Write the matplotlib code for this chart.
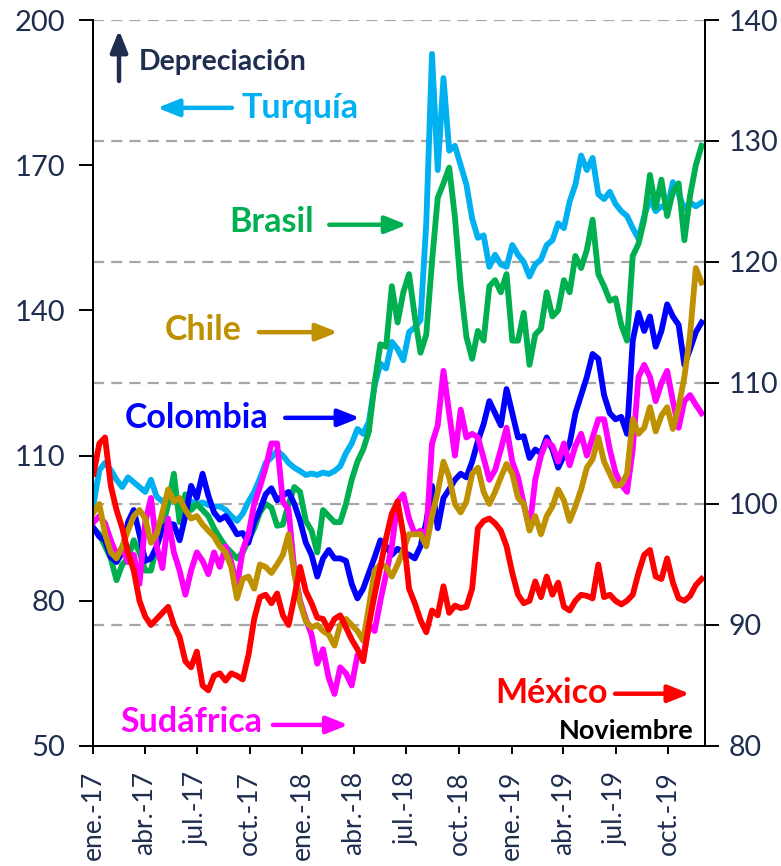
import numpy as np
import pandas as pd
import matplotlib
matplotlib.use("Agg")
import matplotlib.pyplot as plt
from matplotlib.patches import ArrowStyle

plt.rcParams["font.family"] = ["Lato", "DejaVu Sans"]

# ── Data: índices de tipo de cambio (10-day spacing, ene-2017 a nov-2019) ─────
dates = pd.date_range("2017-01-02", periods=107, freq="10D")

# eje izquierdo
turquia = [
    100, 107, 108.5, 107, 105, 103.5, 105.5, 104.5, 103.5, 102.5,
    105, 101.5, 100.5, 101.5, 100.5, 100.5, 100.8, 100.5, 100, 100.3,
    99.8, 99.5, 99.5, 98.8, 97.5, 96.5, 98, 100.5, 102.5, 105.3,
    108.5, 109.6, 111, 110, 108.5, 107.5, 106.8, 106, 106.3, 106,
    106.5, 106.2, 106.8, 107.8, 110.5, 112.5, 115.5, 114.5, 117, 124.5,
    129, 128, 133.5, 132, 129.7, 135.5, 136.5, 138, 158, 193,
    169, 188, 173, 174, 170, 166, 159, 155, 155.5, 149,
    151.5, 149.5, 149, 153.5, 151.5, 150, 147, 149.5, 150.5, 153.5,
    154.5, 158, 157, 162.5, 166, 172, 169, 171.5, 164, 163,
    164.5, 162, 160.5, 159.5, 157, 154.8, 159.5, 163, 160.5, 161.5,
    161, 166.5, 164, 161, 162.3, 161.5, 162.3,
]

# eje derecho
brasil = [
    98, 97.5, 96.5, 95.5, 93.7, 95, 95.5, 97, 96, 94.5,
    94.5, 96.5, 98, 100, 102.5, 98.5, 100.8, 99.5, 100, 99.5,
    99, 98, 97.2, 96.5, 96, 95.5, 96, 97, 98, 99.3,
    100, 99.7, 98.2, 98.3, 100, 101.4, 101, 98.6, 97.8, 96,
    99.5, 99, 98.5, 98.5, 100, 102, 103.5, 104.5, 106, 110,
    113.2, 113, 118, 115, 117.5, 119, 115.5, 112.5, 114, 120,
    125.3, 126.5, 127.8, 123.7, 118, 113.8, 112, 114.3, 113.5, 118,
    118.5, 117.5, 119, 113.5, 113.5, 115.8, 111.5, 114, 114.5, 117.5,
    115.5, 116, 118.5, 117.5, 120.5, 119.5, 121, 123.5, 119, 118,
    116.8, 117, 114.8, 113.5, 120.5, 121.5, 123.5, 127.2, 124.5, 126.8,
    123.8, 125.8, 126.5, 121.8, 125.5, 128, 129.6,
]

colombia = [
    98, 97.3, 97, 95.6, 95.2, 96, 98.5, 99.5, 97.5, 95.3,
    95.5, 96.5, 98, 98.4, 98.3, 97, 99, 101.5, 100.5, 102.5,
    100.7, 99.3, 98.7, 99, 98.3, 97.5, 97.6, 96.8, 98.5, 99.5,
    100.8, 101.3, 100.3, 100.7, 101, 100, 98.6, 96.8, 95.8, 94,
    95.5, 96.2, 95.5, 95.5, 95.3, 93.4, 92.2, 93, 94.3, 95.6,
    97, 96.5, 95.8, 96.3, 96, 95.8, 95.5, 96.5, 98.5, 101.5,
    98, 100.5, 101.2, 102, 102.5, 102.2, 103.5, 105.2, 106.6, 108.5,
    107.5, 106.5, 109.5, 107.5, 105.5, 105.6, 103.8, 104.5, 104.2, 105.5,
    104.5, 103, 104, 105, 107.5, 109, 110.5, 112.4, 112, 109,
    107.5, 107, 107.2, 105.8, 113.5, 115.8, 114.3, 115.5, 113, 114.3,
    116.5, 115.5, 114.8, 111.5, 112.8, 114.2, 115,
]

sudafrica = [
    98.5, 99, 98.4, 97, 95.8, 96.4, 95.2, 95.8, 93.4, 98.5,
    100.5, 96.5, 94.7, 98.8, 96, 94.5, 92.5, 94.5, 96, 95.3,
    94.2, 96, 94.8, 96.5, 95.2, 93.2, 96.2, 97.5, 100, 101.4,
    103, 105, 105, 100.2, 99.5, 94.5, 92, 90.5, 89.2, 86.8,
    88, 85.6, 84.3, 86.5, 86, 85, 87.5, 87.3, 90, 89.5,
    92, 94.2, 96.5, 100.2, 100.8, 98.8, 97.5, 97.8, 97.3, 105,
    106.5, 111, 107.5, 104, 107.8, 105.5, 105.8, 105.5, 103.8, 102,
    102.8, 104.5, 106.3, 103.5, 102.2, 100, 98, 102, 104, 105.2,
    104.8, 103.5, 105, 103.2, 104.8, 105.8, 104, 105.5, 107, 107,
    104.5, 102.6, 101.6, 101, 104.5, 110.5, 111.5, 110.5, 108.5, 110,
    111, 108.5, 106.3, 108.5, 109, 108.2, 107.5,
]

chile = [
    99.3, 100, 97.5, 96, 95.5, 96.5, 97.8, 99, 99.5, 98.8,
    96.8, 97.5, 99.3, 101.2, 100.2, 100.5, 99.5, 98.8, 99, 98.3,
    97.8, 97.3, 96.5, 96, 94.8, 92.2, 93.8, 94, 93, 95,
    94.8, 94.3, 95, 95.8, 97.5, 94.2, 91.8, 90.3, 89.8, 90,
    89.5, 89.2, 88.3, 90, 90.5, 90, 89.5, 88.7, 91.5, 94.5,
    95, 94.8, 94, 95, 96.2, 97.5, 97.5, 97.5, 96.5, 99,
    101, 103.5, 102.2, 100, 99.3, 100.2, 102.5, 103, 101, 100,
    101, 102.2, 103.3, 102.5, 100.5, 100, 97.8, 99, 97.5, 99,
    99.8, 101.2, 100.3, 98.6, 99.8, 101.2, 103, 103.7, 105.5, 103.5,
    102.5, 101.5, 101.6, 102.5, 107, 105.8, 106.3, 108, 106, 107.3,
    108, 106.2, 108, 110.5, 114, 119.5, 118.3,
]

mexico = [
    102.5, 105, 105.5, 101.5, 99.5, 98, 96, 94.5, 92, 90.7,
    90, 90.5, 91, 91.5, 90, 89, 87, 86.5, 87.8, 85,
    84.6, 85.8, 86, 85.4, 86, 85.8, 85.5, 87.5, 90.5, 92.3,
    92.5, 91.8, 92.6, 90.8, 90, 92.3, 94.8, 92.8, 91.8, 90.6,
    90.5, 89.6, 90.5, 90.8, 89.8, 88.8, 88, 87, 90, 92.5,
    94.8, 97.2, 99.2, 100.2, 97.5, 93, 91.8, 90.4, 89.4, 91.2,
    90.8, 93.2, 91, 91.6, 91.4, 91.5, 93, 98, 98.6, 98.8,
    98.4, 97.8, 96.5, 94.3, 92.5, 91.8, 92, 93.6, 92.3, 94,
    92.5, 93.5, 91.5, 91.2, 92, 92.5, 92.4, 92.2, 95, 92.3,
    92.5, 92, 91.7, 92, 92.5, 94.3, 95.8, 96.2, 94, 93.8,
    95.5, 93.5, 92.2, 92, 92.4, 93.3, 93.8,
]

tick_dates = pd.date_range("2017-01-01", "2019-10-01", freq="QS")
tick_labels = ["ene.-17", "abr.-17", "jul.-17", "oct.-17",
               "ene.-18", "abr.-18", "jul.-18", "oct.-18",
               "ene.-19", "abr.-19", "jul.-19", "oct.-19"]

# ── Styling ───────────────────────────────────────────────────────────────────
NAVY = "#1F2D4F"
C_TUR = "#00B0F0"
C_BRA = "#00B050"
C_COL = "#0000FF"
C_SUD = "#FF00FF"
C_CHI = "#BF9000"
C_MEX = "#FF0000"
LW = 4.2

fig = plt.figure(figsize=(7.81, 8.66), dpi=100)
ax = fig.add_axes([0.1191, 0.1386, 0.7836, 0.8383])
ax2 = ax.twinx()

# gridlines at the right-axis ticks 90..140 (drawn on left axis, below lines)
for r in [90, 100, 110, 120, 130, 140]:
    ax.axhline(100 + (r - 100) * 2.5, color="#A6A6A6", lw=1.6,
               ls=(0, (5, 3.2)), zorder=0)

ax.plot(dates, turquia, color=C_TUR, lw=LW, solid_joinstyle="round")
for vals, c in [(brasil, C_BRA), (colombia, C_COL), (sudafrica, C_SUD),
                (chile, C_CHI), (mexico, C_MEX)]:
    ax2.plot(dates, vals, color=c, lw=LW, solid_joinstyle="round")

ax.set_ylim(50, 200)
ax.set_yticks(np.arange(50, 201, 30))
ax2.set_ylim(80, 140)
ax2.set_yticks(np.arange(80, 141, 10))
ax.set_xlim(pd.Timestamp("2017-01-01"), pd.Timestamp("2019-12-04"))
ax.set_xticks(tick_dates)
ax.set_xticklabels(tick_labels, rotation=90)

for a in (ax, ax2):
    a.spines["top"].set_visible(False)
    for s in ("left", "right", "bottom"):
        a.spines[s].set_linewidth(1.4)
ax.tick_params(axis="y", direction="out", length=10, width=1.4, pad=10,
               labelsize=21, labelcolor=NAVY)
ax2.tick_params(axis="y", direction="out", length=10, width=1.4, pad=7,
                labelsize=20.5, labelcolor=NAVY)
ax.tick_params(axis="x", direction="out", length=6, width=1.4, pad=12,
               labelsize=19, labelcolor=NAVY)

# ── Annotations ───────────────────────────────────────────────────────────────
head = ArrowStyle("-|>", head_length=0.65, head_width=0.26)

def arrow(x0, x1, y0, y1, color):
    ax2.annotate("", xy=(x1, y1), xytext=(x0, y0), xycoords="axes fraction",
                 arrowprops=dict(arrowstyle=head, color=color, lw=3.2,
                                 mutation_scale=20, shrinkA=0, shrinkB=0))

def label(x, y, s, color, size=24.5, ha="left"):
    ax2.text(x, y, s, transform=ax2.transAxes, ha=ha, va="center",
             fontsize=size, fontweight="bold", color=color)

arrow(0.0425, 0.0425, 0.916, 0.986, NAVY)
label(0.075, 0.942, "Depreciación", NAVY, size=20.5)

label(0.243, 0.879, "Turquía", C_TUR)
arrow(0.227, 0.105, 0.879, 0.879, C_TUR)

label(0.222, 0.722, "Brasil", C_BRA)
arrow(0.386, 0.513, 0.718, 0.718, C_BRA)

label(0.118, 0.573, "Chile", C_CHI)
arrow(0.271, 0.400, 0.570, 0.570, C_CHI)

label(0.052, 0.452, "Colombia", C_COL)
arrow(0.314, 0.436, 0.452, 0.452, C_COL)

label(0.044, 0.033, "Sudáfrica", C_SUD)
arrow(0.294, 0.417, 0.029, 0.029, C_SUD)

label(0.657, 0.073, "México", C_MEX)
arrow(0.853, 0.975, 0.072, 0.072, C_MEX)

label(0.982, 0.021, "Noviembre", "black", size=19.5, ha="right")

fig.savefig("out.png", dpi=100)
